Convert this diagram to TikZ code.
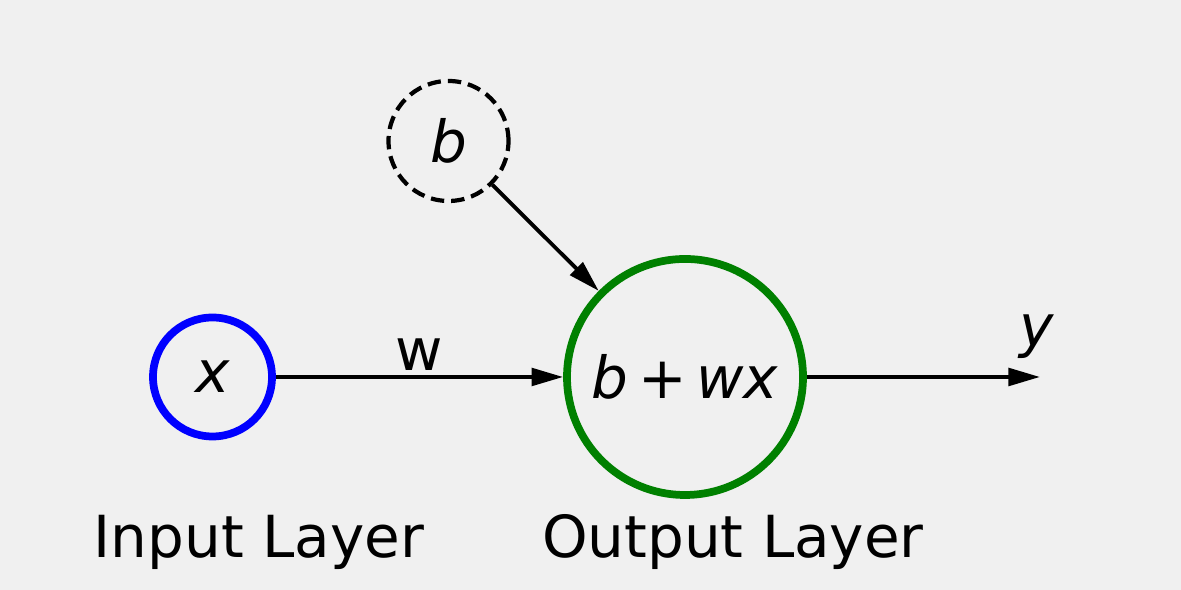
\documentclass[tikz,border=0pt]{standalone}
\usepackage{fontspec}
\setmainfont{DejaVu Sans}
\usetikzlibrary{arrows.meta}
\definecolor{bgcolor}{HTML}{F0F0F0}
\definecolor{outgreen}{RGB}{0,128,0}
\begin{document}
\begin{tikzpicture}[font=\fontsize{16.5}{20}\selectfont,
  unit/.style={circle,inner sep=0pt},
  link/.style={-{Triangle[length=9pt,width=5pt]},line width=1.1pt,black}]
\fill [bgcolor] (0,0) rectangle (11.81,5.90);
\useasboundingbox (0,0) rectangle (11.81,5.90);
\node [unit,draw=blue,line width=2.2pt,minimum size=1.19cm] (X) at (2.125,2.13) {\textit{x}};
\node [unit,draw=black,line width=1.2pt,dash pattern=on 3.8pt off 2pt,minimum size=1.20cm] (B) at (4.485,4.49) {\textit{b}};
\node [unit,draw=outgreen,line width=2.2pt,minimum size=2.36cm] (S) at (6.85,2.13) {\textit{b}\hspace{0.17em}+\hspace{0.17em}\textit{wx}};
\coordinate (Y) at (10.40,2.13);
\node [anchor=base] (W) at (4.195,2.19) {w};
\node [anchor=base] (YL) at (10.37,2.43) {\textit{y}};
\node [anchor=base] (IL) at (2.59,0.32) {Input Layer};
\node [anchor=base] (OL) at (7.33,0.32) {Output Layer};
\draw [link] (X) -- (S);
\draw [link] (B) -- (S);
\draw [link] (S) -- (Y);
\end{tikzpicture}
\end{document}
